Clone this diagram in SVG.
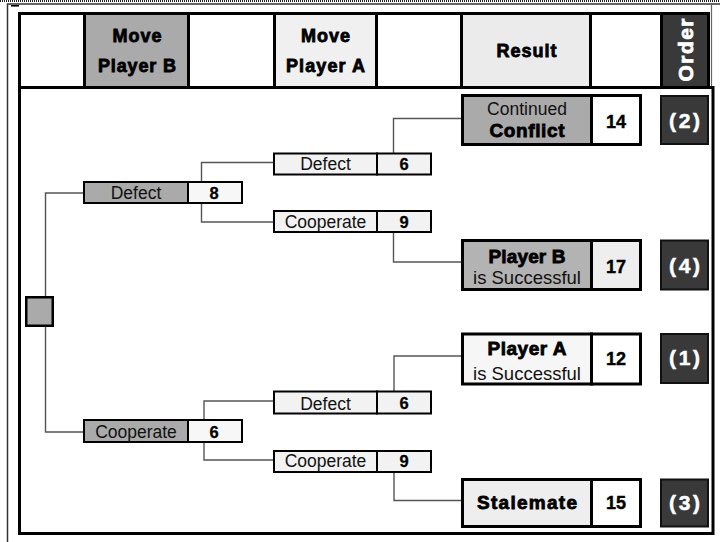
<svg xmlns="http://www.w3.org/2000/svg" width="720" height="542" viewBox="0 0 720 542">
  <style>
    .frame { fill: none; stroke: #000; stroke-width: 3; }
    .sep { stroke: #000; stroke-width: 3; }
    .box { stroke: #000; stroke-width: 2; }
    .rbox { stroke: #000; stroke-width: 3; }
    .obox { fill: #393939; stroke: #111; stroke-width: 2; }
    .wire { fill: none; stroke: #555; stroke-width: 1.4; }
    .heavy { font-family: "Liberation Sans", Arial, sans-serif; font-weight: bold; fill: #000; stroke: #000; stroke-width: 0.8; text-anchor: middle; }
    .reg { font-family: "Liberation Sans", Arial, sans-serif; font-size: 17.5px; fill: #111; text-anchor: middle; }
    .sub { font-family: "Liberation Sans", Arial, sans-serif; font-size: 18.5px; fill: #111; text-anchor: middle; }
    .num { font-family: "Liberation Sans", Arial, sans-serif; font-weight: bold; font-size: 16.5px; fill: #000; stroke: #000; stroke-width: 0.3; text-anchor: middle; }
    .big { font-family: "Liberation Sans", Arial, sans-serif; font-weight: bold; font-size: 18px; fill: #000; stroke: #000; stroke-width: 0.4; text-anchor: middle; }
    .ord { font-family: "Liberation Sans", Arial, sans-serif; font-weight: bold; font-size: 21px; fill: #fff; stroke: #fff; stroke-width: 0.5; text-anchor: middle; }
  </style>

  <rect width="720" height="542" fill="#fff"/>

  <!-- page edge: dotted rule and thin outer frame -->
  <line x1="0" y1="1" x2="720" y2="1" stroke="#222" stroke-width="2" stroke-dasharray="1 1"/>
  <path d="M7.5 542 V4 H720" fill="none" stroke="#333" stroke-width="1.5"/>
  <line x1="711.5" y1="4" x2="711.5" y2="88" stroke="#666" stroke-width="1.2"/>
  <rect x="11" y="5" width="8" height="1.6" fill="#000"/>

  <!-- header row -->
  <g id="header">
    <rect x="86" y="14" width="102" height="73" fill="#aaaaaa"/>
    <rect x="276" y="14" width="100" height="73" fill="#f0f0f0"/>
    <rect x="463" y="14" width="127" height="73" fill="#ebebeb"/>
    <rect x="663" y="14" width="45" height="73" fill="#393939"/>
    <rect class="frame" x="19.5" y="13.5" width="689" height="74"/>
    <line class="sep" x1="84.5" y1="13" x2="84.5" y2="88"/>
    <line class="sep" x1="188.5" y1="13" x2="188.5" y2="88"/>
    <line class="sep" x1="274.5" y1="13" x2="274.5" y2="88"/>
    <line class="sep" x1="376.5" y1="13" x2="376.5" y2="88"/>
    <line class="sep" x1="461.5" y1="13" x2="461.5" y2="88"/>
    <line class="sep" x1="590.5" y1="13" x2="590.5" y2="88"/>
    <line class="sep" x1="661.5" y1="13" x2="661.5" y2="88"/>
    <text class="heavy" font-size="18" x="137" y="42" textLength="49" lengthAdjust="spacing">Move</text>
    <text class="heavy" font-size="18" x="137" y="72" textLength="78" lengthAdjust="spacing">Player B</text>
    <text class="heavy" font-size="18" x="325.5" y="42" textLength="49" lengthAdjust="spacing">Move</text>
    <text class="heavy" font-size="18" x="325.5" y="72" textLength="79" lengthAdjust="spacing">Player A</text>
    <text class="heavy" font-size="18" x="526.5" y="57" textLength="60" lengthAdjust="spacing">Result</text>
    <text class="heavy" font-size="21" transform="translate(692.5,50) rotate(-90)" x="0" y="0" textLength="63" lengthAdjust="spacing" style="fill:#fff;stroke:#fff">Order</text>
  </g>

  <!-- body frame -->
  <rect class="frame" x="19.5" y="87.5" width="693.5" height="446"/>

  <!-- connectors -->
  <g id="connectors">
    <path class="wire" d="M45.5 297 V193 H84"/>
    <path class="wire" d="M45.5 326 V432 H84"/>
    <path class="wire" d="M201.5 182 V162.5 H274"/>
    <path class="wire" d="M201.5 203 V222 H274"/>
    <path class="wire" d="M204 420 V401 H274"/>
    <path class="wire" d="M204 442 V460 H274"/>
    <path class="wire" d="M393.5 153.5 V118.5 H462"/>
    <path class="wire" d="M393.5 232 V262 H462"/>
    <path class="wire" d="M394 391.5 V356 H462"/>
    <path class="wire" d="M394 472 V500.5 H462"/>
  </g>

  <!-- root decision -->
  <g id="root">
    <rect x="26.25" y="297.25" width="26.5" height="28.5" fill="#aaaaaa" stroke="#000" stroke-width="2.5"/>
  </g>

  <!-- Player B moves -->
  <g id="b-defect">
    <rect class="box" x="84" y="182" width="104" height="21" fill="#aaaaaa"/>
    <rect class="box" x="188" y="182" width="54" height="21" fill="#f7f7f7"/>
    <text class="reg" x="136" y="199">Defect</text>
    <text class="num" x="214" y="199">8</text>
  </g>
  <g id="b-cooperate">
    <rect class="box" x="84" y="420" width="104" height="22" fill="#aaaaaa"/>
    <rect class="box" x="188" y="420" width="54" height="22" fill="#f7f7f7"/>
    <text class="reg" x="136" y="437.5">Cooperate</text>
    <text class="num" x="214" y="437.5">6</text>
  </g>

  <!-- Player A moves -->
  <g id="a-defect-1">
    <rect class="box" x="274" y="153.5" width="103" height="21" fill="#f2f2f2"/>
    <rect class="box" x="377" y="153.5" width="54" height="21" fill="#f2f2f2"/>
    <text class="reg" x="325.5" y="170">Defect</text>
    <text class="num" x="404" y="170">6</text>
  </g>
  <g id="a-cooperate-1">
    <rect class="box" x="274" y="211" width="103" height="21" fill="#f2f2f2"/>
    <rect class="box" x="377" y="211" width="54" height="21" fill="#f2f2f2"/>
    <text class="reg" x="325.5" y="228">Cooperate</text>
    <text class="num" x="404" y="228">9</text>
  </g>
  <g id="a-defect-2">
    <rect class="box" x="274" y="391.5" width="103" height="22" fill="#f2f2f2"/>
    <rect class="box" x="377" y="391.5" width="54" height="22" fill="#f2f2f2"/>
    <text class="reg" x="325.5" y="410">Defect</text>
    <text class="num" x="404" y="409">6</text>
  </g>
  <g id="a-cooperate-2">
    <rect class="box" x="274" y="451" width="103" height="21" fill="#f2f2f2"/>
    <rect class="box" x="377" y="451" width="54" height="21" fill="#f2f2f2"/>
    <text class="reg" x="325.5" y="467">Cooperate</text>
    <text class="num" x="404" y="467">9</text>
  </g>

  <!-- outcomes -->
  <g id="result-conflict">
    <rect class="rbox" x="462.5" y="95.5" width="129" height="49" fill="#aaaaaa"/>
    <rect class="rbox" x="591.5" y="95.5" width="49" height="49" fill="#ffffff"/>
    <text class="reg" x="527" y="115">Continued</text>
    <text class="heavy" font-size="19" x="527" y="137" textLength="75" lengthAdjust="spacing">Conflict</text>
    <text class="big" x="616" y="128">14</text>
  </g>
  <g id="result-b-wins">
    <rect class="rbox" x="462.5" y="240.5" width="129" height="49" fill="#b3b3b3"/>
    <rect class="rbox" x="591.5" y="240.5" width="49" height="49" fill="#eeeeee"/>
    <text class="heavy" font-size="19" x="527" y="263" textLength="77" lengthAdjust="spacing">Player B</text>
    <text class="sub" x="527" y="284">is Successful</text>
    <text class="big" x="616" y="273">17</text>
  </g>
  <g id="result-a-wins">
    <rect class="rbox" x="462.5" y="334" width="129" height="50" fill="#f6f6f6"/>
    <rect class="rbox" x="591.5" y="334" width="49" height="50" fill="#ffffff"/>
    <text class="heavy" font-size="19" x="527" y="355" textLength="79" lengthAdjust="spacing">Player A</text>
    <text class="sub" x="527" y="380">is Successful</text>
    <text class="big" x="616" y="365">12</text>
  </g>
  <g id="result-stalemate">
    <rect class="rbox" x="462.5" y="479.5" width="129" height="47" fill="#eeeeee"/>
    <rect class="rbox" x="591.5" y="479.5" width="49" height="47" fill="#ffffff"/>
    <text class="heavy" font-size="19" x="527" y="509" textLength="100" lengthAdjust="spacing">Stalemate</text>
    <text class="big" x="616" y="509">15</text>
  </g>

  <!-- preference order -->
  <g id="order-2">
    <rect class="obox" x="661" y="96" width="47" height="48"/>
    <text class="ord" x="684.5" y="128" textLength="31" lengthAdjust="spacing">(2)</text>
  </g>
  <g id="order-4">
    <rect class="obox" x="661" y="240.5" width="47" height="49"/>
    <text class="ord" x="684.5" y="273" textLength="31" lengthAdjust="spacing">(4)</text>
  </g>
  <g id="order-1">
    <rect class="obox" x="661" y="334" width="47" height="49"/>
    <text class="ord" x="684.5" y="365" textLength="31" lengthAdjust="spacing">(1)</text>
  </g>
  <g id="order-3">
    <rect class="obox" x="661" y="479.5" width="47" height="47"/>
    <text class="ord" x="684.5" y="510" textLength="31" lengthAdjust="spacing">(3)</text>
  </g>
</svg>
